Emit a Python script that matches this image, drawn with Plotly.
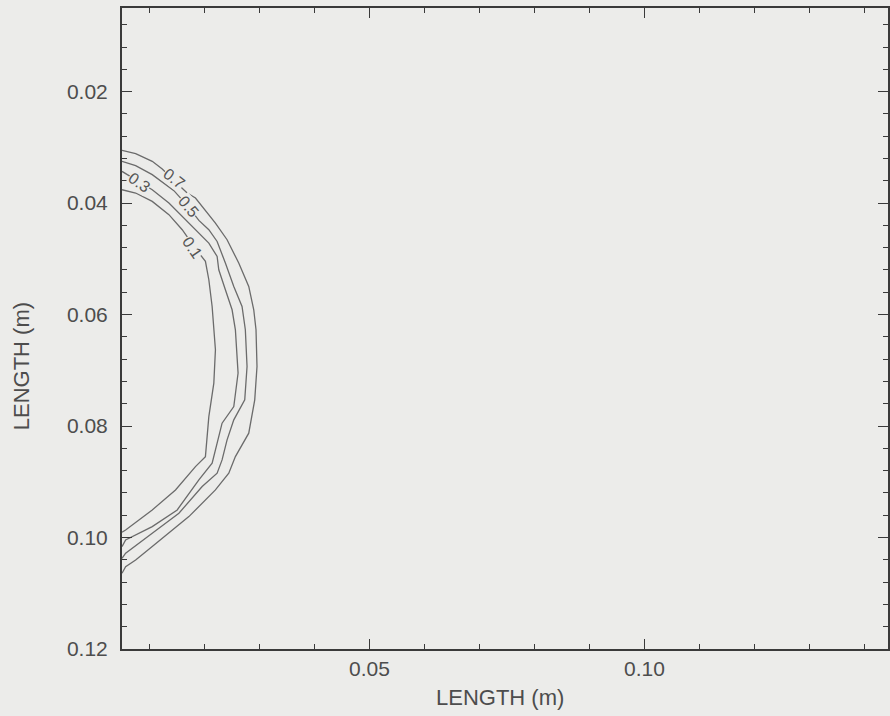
import plotly.graph_objects as go

# ---- data (metres) ----
levels = ["0.7", "0.5", "0.3", "0.1"]

c07_x = [0.00500, 0.00748, 0.01050, 0.01232, 0.01450, 0.01685, 0.01836, 0.02199, 0.02411, 0.02623,
         0.02805, 0.02896, 0.02937, 0.02955, 0.02914, 0.02805, 0.02562, 0.02442, 0.02199, 0.01716,
         0.01050, 0.00748, 0.00566, 0.00500]
c07_y = [0.03054, 0.03113, 0.03251, 0.03388, 0.03600, 0.03819, 0.03909, 0.04358, 0.04657, 0.05076,
         0.05495, 0.05914, 0.06273, 0.06932, 0.07530, 0.08128, 0.08548, 0.08846, 0.09146, 0.09625,
         0.10163, 0.10402, 0.10522, 0.10642]

c05_x = [0.00500, 0.00748, 0.01050, 0.01353, 0.01444, 0.01700, 0.01898, 0.02079, 0.02230, 0.02380,
         0.02533, 0.02683, 0.02743, 0.02774, 0.02732, 0.02533, 0.02411, 0.02320, 0.02230, 0.01958,
         0.01535, 0.01050, 0.00566, 0.00500]
c05_y = [0.03251, 0.03329, 0.03490, 0.03700, 0.03777, 0.04060, 0.04311, 0.04478, 0.04688, 0.05076,
         0.05495, 0.05855, 0.06273, 0.06932, 0.07530, 0.07889, 0.08248, 0.08607, 0.08846, 0.09086,
         0.09564, 0.09923, 0.10282, 0.10372]

c03_x = [0.00500, 0.00689, 0.01050, 0.01353, 0.01595, 0.01836, 0.02079, 0.02230, 0.02260, 0.02380,
         0.02502, 0.02562, 0.02611, 0.02533, 0.02320, 0.02230, 0.02139, 0.01898, 0.01504, 0.01050,
         0.00566, 0.00500]
c03_y = [0.03431, 0.03544, 0.03760, 0.04000, 0.04239, 0.04478, 0.04717, 0.04957, 0.05196, 0.05555,
         0.05914, 0.06273, 0.07050, 0.07650, 0.07948, 0.08307, 0.08666, 0.08966, 0.09505, 0.09804,
         0.10043, 0.10163]

c01_x = [0.00500, 0.00748, 0.01050, 0.01353, 0.01595, 0.01807, 0.02017, 0.02079, 0.02139, 0.02170,
         0.02199, 0.02170, 0.02079, 0.02017, 0.01836, 0.01473, 0.01050, 0.00566, 0.00500]
c01_y = [0.03760, 0.03819, 0.03970, 0.04208, 0.04478, 0.04777, 0.05046, 0.05375, 0.05855, 0.06273,
         0.06632, 0.07230, 0.07830, 0.08548, 0.08727, 0.09146, 0.09505, 0.09864, 0.09905]

label_x = [0.01450, 0.01704, 0.00815, 0.01776]
label_y = [0.03560, 0.04070, 0.03634, 0.04801]
label_angle = [38, 50, 35, 55]

x_ticks = [0.05, 0.10]
x_ticklabels = ["0.05", "0.10"]
y_ticks = [0.02, 0.04, 0.06, 0.08, 0.10, 0.12]
y_ticklabels = ["0.02", "0.04", "0.06", "0.08", "0.10", "0.12"]
axis_title = "LENGTH (m)"

# ---- style ----
BG = "#ececea"
LINE = "#6b6b6b"
TXT = "#4d4d4d"
FONT = "Liberation Sans, Arial, Helvetica, sans-serif"

fig = go.Figure()
for xs, ys in [(c07_x, c07_y), (c05_x, c05_y), (c03_x, c03_y), (c01_x, c01_y)]:
    fig.add_trace(go.Scatter(x=xs, y=ys, mode="lines",
                             line=dict(color=LINE, width=1.3),
                             showlegend=False, hoverinfo="skip"))

for t, lx, ly, a in zip(levels, label_x, label_y, label_angle):
    fig.add_annotation(x=lx, y=ly, text=t, showarrow=False, textangle=a,
                       bgcolor=BG, borderpad=0,
                       font=dict(family=FONT, size=16, color="#555555"))

fig.add_annotation(xref="paper", yref="paper", x=0.4935, y=-0.0764,
                   text=axis_title, showarrow=False, xanchor="center", yanchor="middle",
                   font=dict(family=FONT, size=22, color=TXT))
fig.add_annotation(xref="paper", yref="paper", x=-0.1302, y=0.4415,
                   text=axis_title, showarrow=False, textangle=-90,
                   xanchor="center", yanchor="middle",
                   font=dict(family=FONT, size=22, color=TXT))

axis_common = dict(showline=True, linecolor="#3a3a3a", linewidth=2, mirror="allticks",
                   ticks="inside", ticklen=10, tickwidth=1.2, tickcolor="#3a3a3a",
                   showgrid=False, zeroline=False,
                   tickfont=dict(family=FONT, size=21, color=TXT))

fig.update_xaxes(range=[0.005, 0.1443], tickvals=x_ticks, ticktext=x_ticklabels,
                 minor=dict(dtick=0.01, tick0=0, ticks="inside", ticklen=5,
                            tickcolor="#3a3a3a", tickwidth=1.2),
                 **axis_common)
fig.update_yaxes(range=[0.12, 0.005], tickvals=y_ticks, ticktext=y_ticklabels,
                 ticklabelstandoff=8,
                 minor=dict(dtick=0.004, tick0=0, ticks="inside", ticklen=5,
                            tickcolor="#3a3a3a", tickwidth=1.2),
                 **axis_common)

fig.update_layout(width=890, height=716,
                  margin=dict(l=122, r=0, t=8, b=67),
                  paper_bgcolor=BG, plot_bgcolor=BG)

fig.write_html("out.html")
